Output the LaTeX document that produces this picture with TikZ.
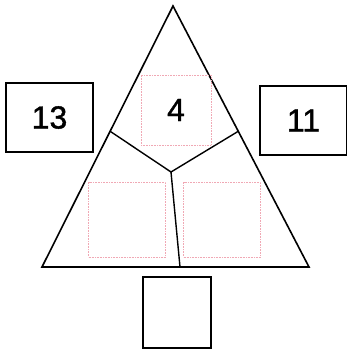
\documentclass[tikz,border=0pt]{standalone}
\usepackage{fontspec}
\setmainfont{Liberation Sans}
\newfontfamily\numfont[FakeBold=1.2]{Liberation Sans}
\usepackage{xcolor}
\definecolor{guidepink}{HTML}{f0a8b4}
\usetikzlibrary{calc, positioning}

\begin{document}
\begin{tikzpicture}[x=1pt, y=-1pt,
    numbox/.style={draw, line width=1.6pt, minimum width=87pt, minimum height=69pt, font=\numfont\fontsize{32}{32}\selectfont},
    guidebox/.style={draw=guidepink, densely dotted, line width=0.6pt, minimum width=70pt, minimum height=70pt, font=\numfont\fontsize{32}{32}\selectfont}]
    \useasboundingbox (0,0) rectangle (347,349);

    % Outer triangle
    \coordinate (apex) at (173,6);
    \coordinate (bl) at (42,267);
    \coordinate (br) at (309,267);
    \draw[line width=1.6pt, line join=miter] (apex) -- (bl) -- (br) -- cycle;

    % Dividers
    \coordinate (mid) at (171,172);
    \coordinate (dl) at ($(apex)!0.48!(bl)$);
    \coordinate (dr) at ($(apex)!0.48!(br)$);
    \coordinate (db) at (180,267);
    \draw[line width=1.4pt] (dl) -- (mid) -- (dr);
    \draw[line width=1.4pt] (mid) -- (db);

    % Guide squares inside the triangle
    \node[guidebox] (top) at (176,110) {4};
    \node[guidebox, minimum width=77pt, minimum height=75pt] (lower left) at (127,219.5) {};
    \node[guidebox, minimum width=77pt, minimum height=75pt] (lower right) at (222,219.5) {};

    % Number boxes
    \node[numbox] (left) at (49.5,117.5) {13};
    \node[numbox] (right) at (303.5,120.5) {11};
    \node[numbox, minimum width=68pt, minimum height=71pt] (bottom) at (177,312.5) {};
\end{tikzpicture}
\end{document}
